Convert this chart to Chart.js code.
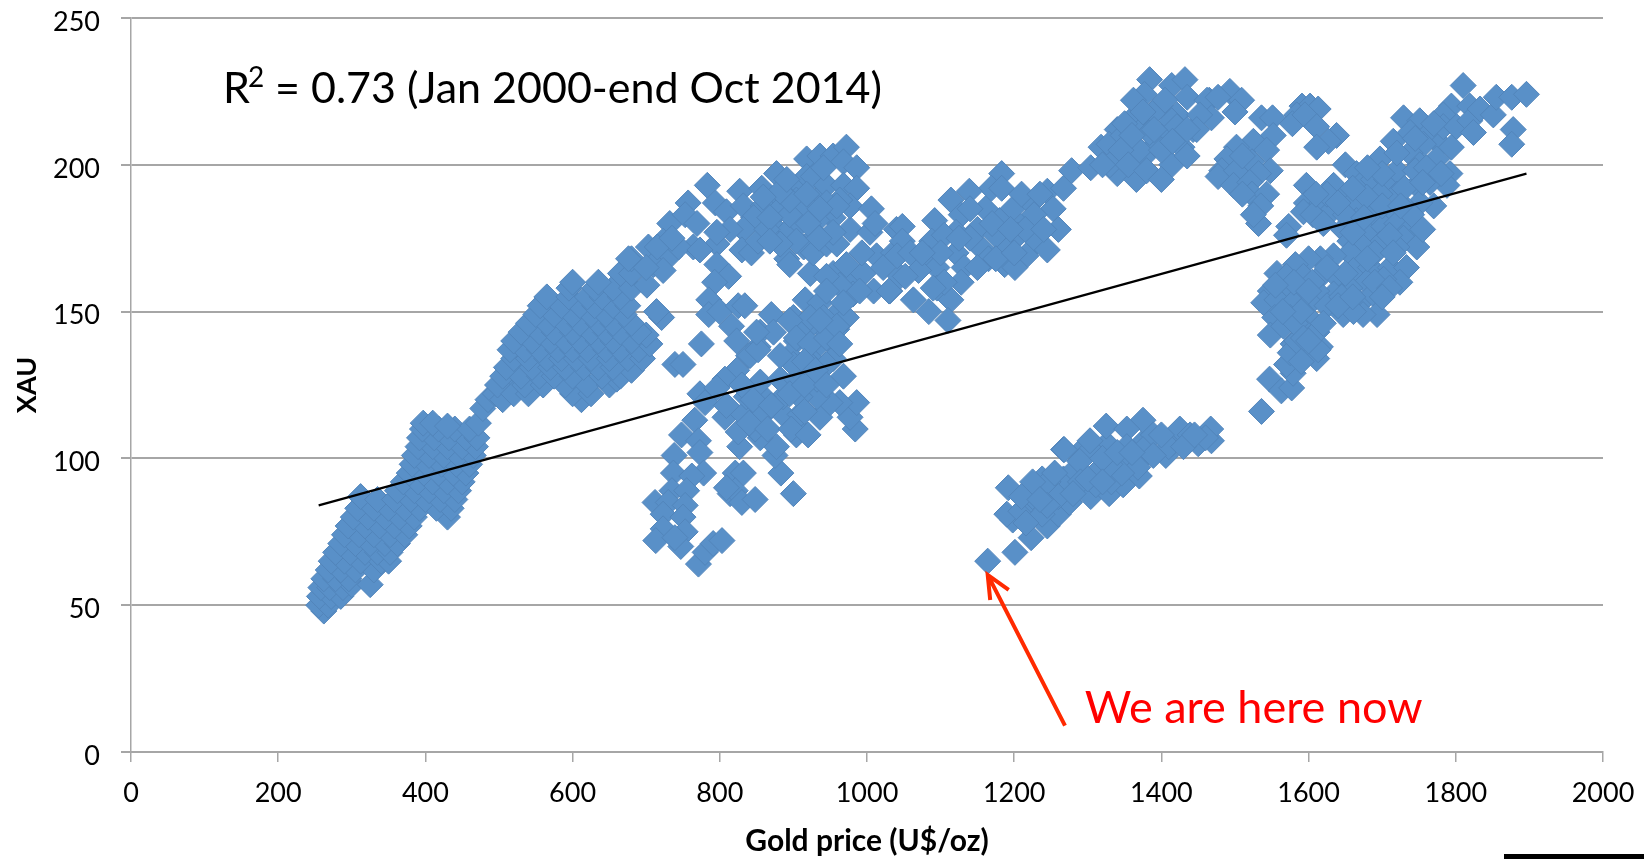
<!DOCTYPE html>
<html>
<head>
<meta charset="utf-8">
<title>XAU vs gold price</title>
<script src="https://cdn.jsdelivr.net/npm/chart.js@4/dist/chart.umd.min.js"></script>
<style>
  html, body { margin: 0; padding: 0; background: #fff; overflow: hidden; }
  canvas { display: block; }
</style>
</head>
<body>
<canvas id="scatter" width="1644" height="859"></canvas>
<script>
// [gold price, XAU], one list per blob
const lowBand = [
  [262,48],[255,50],[268,50],[256,53],[272,53],[285,53],[258,56],[270,56],[288,56],[300,57],
  [262,59],[278,59],[296,59],[325,57],[268,62],[285,62],[305,62],[330,62],[272,65],[290,65],
  [312,65],[340,65],[350,65],[278,68],[298,68],[318,68],[335,68],[352,68],[285,71],[305,71],
  [325,71],[345,71],[362,71],[290,74],[310,74],[330,74],[352,74],[372,74],[295,77],[318,77],
  [338,77],[358,77],[378,77],[302,80],[322,80],[345,80],[365,80],[385,80],[430,80],[308,83],
  [330,83],[350,83],[372,83],[392,83],[415,83],[435,83],[312,87],[335,86],[358,86],[380,86],
  [400,86],[420,86],[440,86],[362,89],[385,89],[405,89],[425,89],[445,89],[370,92],[390,92],
  [410,92],[430,92],[450,92],[378,95],[398,95],[418,95],[438,95],[455,95],[382,98],[402,98],
  [422,98],[442,98],[460,98],[385,101],[405,101],[425,101],[445,101],[465,101],[390,104],[410,104],
  [430,104],[450,104],[468,104],[392,107],[412,107],[432,107],[455,107],[470,107],[396,110],[418,110],
  [440,110],[460,110],[472,112],[397,112],[410,112],[430,111],[478,117],[485,120],[495,122],[505,120],
  [510,128],[498,125]
];
const silverRun = [
  [612,120],[520,122],[540,122],[600,122],[625,122],[535,125],[560,125],[590,125],[620,125],[650,125],
  [660,127],[505,128],[530,128],[555,128],[575,128],[600,128],[640,128],[665,128],[680,130],[510,131],
  [545,131],[570,131],[590,131],[615,131],[635,131],[655,131],[520,134],[540,134],[565,134],[585,134],
  [605,134],[625,134],[650,134],[675,134],[695,134],[515,137],[535,137],[555,137],[580,137],[600,137],
  [620,137],[645,137],[665,137],[690,137],[705,139],[520,140],[545,140],[570,140],[590,140],[610,140],
  [635,140],[655,140],[680,140],[700,142],[530,143],[555,143],[575,143],[600,143],[625,143],[645,143],
  [665,143],[690,143],[540,146],[565,146],[590,146],[610,146],[635,146],[655,146],[680,146],[550,149],
  [575,149],[600,149],[625,149],[645,149],[670,149],[556,152],[585,152],[610,152],[630,152],[655,152],
  [675,152],[565,155],[595,155],[620,155],[640,155],[665,155],[595,158],[630,158],[655,158],[680,158],
  [600,160],[635,160],[665,163],[680,163],[680,168]
];
const topRidge = [
  [676,168],[703,172],[701,159],[732,180],[723,174],[757,187],[753,183],[783,193],[794,187],[809,184],
  [827,191],[832,186],[857,192],[877,197],[877,188],[859,186],[846,182],[832,178],[814,178],[796,173],
  [769,180],[764,172],[732,169],[710,166],[723,164],[744,172],[773,171],[796,177],[830,171],[843,170],
  [852,174],[873,179],[895,178],[909,180],[891,168],[895,166],[923,163],[914,172],[927,170],[945,173],
  [959,173],[977,178],[954,182],[932,181],[936,189],[918,202],[936,203],[954,203],[972,206],[968,201],
  [986,199],[918,196],[900,192],[927,196],[945,193],[968,193],[986,192],[977,186],[1006,185],[1004,177],
  [1011,180],[963,188],[945,187],[904,188],[882,185],[864,178],[895,183],[918,186],[941,199],[895,188],
  [918,190],[959,186],[936,185],[868,182],[882,191],[891,195],[859,189],[904,174],[932,176],[954,177],
  [882,173],[868,174],[700,165],[715,172],[735,175],[920,180],[935,175]
];
const midHollow = [
  [796,166],[812,162],[793,160],[785,154],[785,149],[800,150],[825,152],[834,152],[816,145],[823,140],
  [870,149],[855,143],[873,143],[852,138],[839,135],[775,139],[739,132],[750,132],[721,148],[714,150],
  [900,148],[916,154],[936,153],[954,148],[959,144],[941,144],[918,144],[904,140],[932,138],[954,139],
  [895,135],[923,134],[954,134],[954,163],[977,162],[995,163],[1013,169],[993,170],[972,166],[1031,157],
  [1009,157],[981,156],[963,159],[945,162],[1040,178],[1036,170],[1022,165],[1045,162],[945,157],[923,148],
  [941,148],[972,148],[968,153],[990,157]
];
const crashDrop = [
  [968,128],[773,122],[780,119],[766,113],[748,108],[771,106],[773,102],[738,101],[737,95],[778,95],
  [762,94],[735,89],[755,89],[712,85],[730,85],[753,84],[723,81],[750,80],[723,76],[753,75],
  [713,72],[747,70],[739,73],[771,64],[780,68],[791,71],[803,72],[821,95],[832,95],[814,88],
  [821,89],[830,85],[848,86],[809,90],[900,88],[883,95],[875,101],[877,104],[827,104],[855,107],
  [848,110],[825,109],[807,114],[832,115],[859,115],[886,115],[904,111],[904,108],[936,114],[909,115],
  [984,110],[977,114],[986,119],[963,119],[950,119],[932,121],[909,121],[886,121],[859,121],[836,121],
  [809,118],[823,130],[807,127],[796,124],[855,126],[882,127],[904,127],[932,127],[900,132],[923,132],
  [945,132],[882,135],[841,135],[852,137],[850,143],[895,147],[904,141],[923,139],[945,141],[959,145],
  [963,139],[936,147],[830,125],[845,120],[870,118],[895,122],[915,125],[915,133],[930,130],[945,125],
  [915,116],[840,112],[865,110],[897,110],[920,108]
];
const plateau = [
  [1183,197],[1169,192],[1183,192],[1139,191],[1114,188],[1092,181],[1048,179],[1128,183],[1161,185],[1198,185],
  [1223,187],[1245,191],[1267,192],[1253,185],[1260,178],[1227,183],[1209,179],[1180,181],[1150,178],[1121,177],
  [1088,174],[1048,174],[1041,169],[1059,170],[1084,168],[1121,170],[1158,171],[1190,172],[1231,174],[1245,171],
  [1216,169],[1187,166],[1201,165],[1165,168],[1132,165],[1095,165],[1070,164],[1030,157],[1052,162],[1063,154],
  [1095,158],[1128,160],[1114,154],[1084,150],[1110,147],[1105,176],[1140,175],[1175,176],[1205,176],[1105,160],
  [1100,170],[1140,185],[1150,165],[1175,168],[1200,170],[1215,178],[1240,178],[1125,175],[1075,170],[1090,158],
  [1210,190],[1235,190],[1170,180],[1195,178]
];
const highRidge = [
  [1278,198],[1304,199],[1340,197],[1366,195],[1414,200],[1318,206],[1348,204],[1377,203],[1340,212],[1362,216],
  [1384,229],[1377,224],[1414,227],[1432,229],[1435,223],[1362,222],[1399,220],[1421,217],[1377,213],[1406,211],
  [1443,212],[1428,206],[1435,203],[1392,207],[1362,207],[1465,222],[1493,225],[1509,222],[1462,222],[1477,223],
  [1500,218],[1468,216],[1452,217],[1448,212],[1329,207],[1348,210],[1414,215],[1384,211],[1421,213],[1390,218],
  [1405,222],[1350,214],[1370,205],[1330,200],[1345,205],[1360,210],[1375,218],[1390,212],[1400,205],[1415,208],
  [1435,212],[1355,200],[1380,198],[1400,195],[1320,200]
];
const highRetreat = [
  [1536,216],[1551,216],[1552,210],[1525,208],[1543,205],[1502,206],[1489,202],[1482,198],[1477,196],[1502,198],
  [1523,201],[1548,198],[1532,197],[1498,193],[1520,194],[1523,190],[1543,190],[1591,220],[1602,220],[1613,219],
  [1584,217],[1578,214],[1595,217],[1611,213],[1638,210],[1627,208],[1611,206],[1532,180],[1573,179],[1570,176],
  [1510,203],[1510,190],[1535,186],[1525,183]
];
const secondPeak = [
  [1650,200],[1665,197],[1597,193],[1597,187],[1593,184],[1618,187],[1606,183],[1634,193],[1652,190],[1674,194],
  [1688,195],[1706,195],[1720,198],[1697,202],[1715,208],[1729,216],[1751,215],[1738,211],[1765,211],[1779,207],
  [1756,207],[1738,204],[1751,200],[1774,202],[1794,206],[1794,220],[1783,217],[1783,213],[1801,213],[1819,220],
  [1819,215],[1833,219],[1851,217],[1824,211],[1810,227],[1855,223],[1876,223],[1896,224],[1878,212],[1876,207],
  [1792,197],[1788,193],[1765,194],[1747,193],[1720,190],[1697,190],[1679,189],[1656,186],[1634,185],[1770,186],
  [1751,187],[1733,185],[1711,183],[1688,183],[1665,181],[1647,178],[1656,174],[1679,177],[1702,179],[1720,180],
  [1738,178],[1729,175],[1747,172],[1720,172],[1697,173],[1674,172],[1656,170],[1634,169],[1616,168],[1600,168],
  [1582,166],[1557,163],[1548,157],[1539,153],[1570,162],[1593,162],[1616,162],[1638,162],[1661,164],[1684,165],
  [1711,165],[1733,165],[1724,160],[1702,161],[1679,160],[1656,158],[1634,156],[1611,157],[1588,157],[1566,156],
  [1557,154],[1579,153],[1602,153],[1625,152],[1670,153],[1688,156],[1693,149],[1674,149],[1647,149],[1661,150],
  [1600,148],[1575,148],[1554,148],[1548,142],[1566,145],[1588,145],[1611,143],[1579,139],[1616,138],[1536,116],
  [1547,127],[1563,123],[1577,124],[1579,129],[1570,132],[1597,135],[1611,134],[1575,136],[1613,137],[1584,140],
  [1611,143],[1582,146],[1593,141],[1625,190],[1650,183],[1675,182],[1700,186],[1730,192],[1745,198],[1700,197],
  [1680,199],[1660,192],[1640,187],[1620,180],[1610,190],[1660,177],[1690,170],[1710,176],[1740,183],[1760,199],
  [1780,197],[1755,178],[1720,204],[1745,209],[1770,214],[1690,160],[1710,158],[1650,163],[1625,165],[1605,160],
  [1580,160],[1555,159],[1600,157],[1645,155],[1620,146],[1640,152],[1590,150],[1565,150],[1600,140],[1590,133],
  [1660,155],[1700,155],[1715,170],[1680,168],[1725,186],[1755,194]
];
const recentSlide = [
  [1164,65],[1201,68],[1192,90],[1223,73],[1198,79],[1190,81],[1209,82],[1223,86],[1238,93],[1245,77],
  [1260,81],[1238,81],[1216,78],[1275,85],[1253,88],[1267,93],[1267,103],[1289,102],[1282,96],[1304,87],
  [1329,88],[1311,91],[1348,91],[1370,94],[1355,98],[1326,98],[1326,105],[1304,103],[1377,106],[1377,101],
  [1406,101],[1414,105],[1450,105],[1468,106],[1325,111],[1375,113],[1389,108],[1425,110],[1467,110],[1460,107],
  [1439,108],[1410,104],[1353,110],[1353,104],[1375,103],[1303,106],[1268,103],[1289,99],[1311,95],[1332,92],
  [1246,92],[1225,87],[1260,87],[1389,101],[1368,97],[1346,95],[1225,92],[1245,84],[1290,92],[1330,98],
  [1210,87],[1235,86],[1255,95],[1280,88],[1300,93],[1320,100],[1340,102],[1360,102],[1400,108],[1430,104],
  [1445,108],[1320,92]
];
const trendGold = [255, 1896];
const trendXau = [84, 197];

const xTicks = [0, 200, 400, 600, 800, 1000, 1200, 1400, 1600, 1800, 2000];
const yTicks = [0, 50, 100, 150, 200, 250];

const fontName = 'Lato, Carlito, Calibri, sans-serif';

const allPoints = [lowBand, silverRun, topRidge, midHollow, crashDrop, plateau,
  highRidge, highRetreat, secondPeak, recentSlide].flat().map(p => ({ x: p[0], y: p[1] }));

// text and arrow that sit on the plot
const notes = {
  id: 'notes',
  afterDatasetsDraw(chart) {
    const { ctx, scales: { x, y } } = chart;
    ctx.save();
    ctx.textBaseline = 'alphabetic';
    ctx.fillStyle = '#000';
    const baseX = x.getPixelForValue(125), baseY = y.getPixelForValue(221);
    ctx.font = '43px ' + fontName;
    ctx.fillText('R', baseX, baseY);
    ctx.font = '28px ' + fontName;
    ctx.fillText('2', baseX + 25, baseY - 16);
    ctx.font = '43px ' + fontName;
    ctx.fillText('= 0.73 (Jan 2000-end Oct 2014)', baseX + 52, baseY);

    ctx.fillStyle = '#ff0000';
    ctx.font = '45px ' + fontName;
    ctx.fillText('We are here now', x.getPixelForValue(1296), y.getPixelForValue(10));

    const tipX = x.getPixelForValue(1164), tipY = y.getPixelForValue(60.3);
    ctx.strokeStyle = '#ff2a00';
    ctx.lineWidth = 4;
    ctx.beginPath();
    ctx.moveTo(x.getPixelForValue(1269), y.getPixelForValue(9));
    ctx.lineTo(tipX, tipY);
    ctx.moveTo(tipX + 2.5, tipY + 25);
    ctx.lineTo(tipX, tipY);
    ctx.lineTo(tipX + 21, tipY + 15);
    ctx.stroke();

    // stray black bar in the corner of the original slide
    ctx.fillStyle = '#000';
    ctx.fillRect(1504, 854, 140, 5);
    ctx.restore();
  }
};

new Chart(document.getElementById('scatter').getContext('2d'), {
  type: 'scatter',
  data: {
    datasets: [
      {
        data: trendGold.map((g, i) => ({ x: g, y: trendXau[i] })),
        showLine: true,
        borderColor: '#000',
        borderWidth: 2.2,
        pointRadius: 0
      },
      {
        data: allPoints,
        pointStyle: 'rectRot',
        pointRadius: 13,
        backgroundColor: '#5990c8',
        borderColor: '#5285bb',
        borderWidth: 1
      }
    ]
  },
  options: {
    responsive: false,
    animation: false,
    devicePixelRatio: 1,
    layout: { padding: { top: 18, right: 41 } },
    plugins: { legend: { display: false }, tooltip: { enabled: false } },
    scales: {
      x: {
        type: 'linear',
        min: 0,
        max: 2000,
        afterFit(axis) { axis.height = 107; axis.paddingLeft = 0; axis.paddingRight = 0; },
        afterBuildTicks(axis) { axis.ticks = xTicks.map(v => ({ value: v })); },
        border: { color: '#a6a6a6', width: 2 },
        grid: { drawOnChartArea: false, color: '#a6a6a6', lineWidth: 1.5, tickLength: 10 },
        ticks: { color: '#000', font: { family: fontName, size: 27 }, padding: 15, maxRotation: 0, callback: v => String(v) },
        title: {
          display: true,
          text: 'Gold price (U$/oz)',
          color: '#000',
          font: { family: fontName, size: 30, weight: 'bold' },
          padding: { top: 8, bottom: 0 }
        }
      },
      y: {
        min: 0,
        max: 250,
        afterFit(axis) { axis.width = 131; axis.paddingTop = 0; axis.paddingBottom = 0; },
        afterBuildTicks(axis) { axis.ticks = yTicks.map(v => ({ value: v })); },
        border: { color: '#a6a6a6', width: 1.5 },
        grid: { color: '#a6a6a6', lineWidth: 2, tickLength: 10 },
        ticks: { color: '#000', font: { family: fontName, size: 27 }, padding: 21, labelOffset: 4 },
        title: {
          display: true,
          text: 'XAU',
          color: '#000',
          font: { family: fontName, size: 27, weight: 'bold' },
          padding: { top: 11, bottom: 0 }
        }
      }
    }
  },
  plugins: [notes]
});
</script>
</body>
</html>
